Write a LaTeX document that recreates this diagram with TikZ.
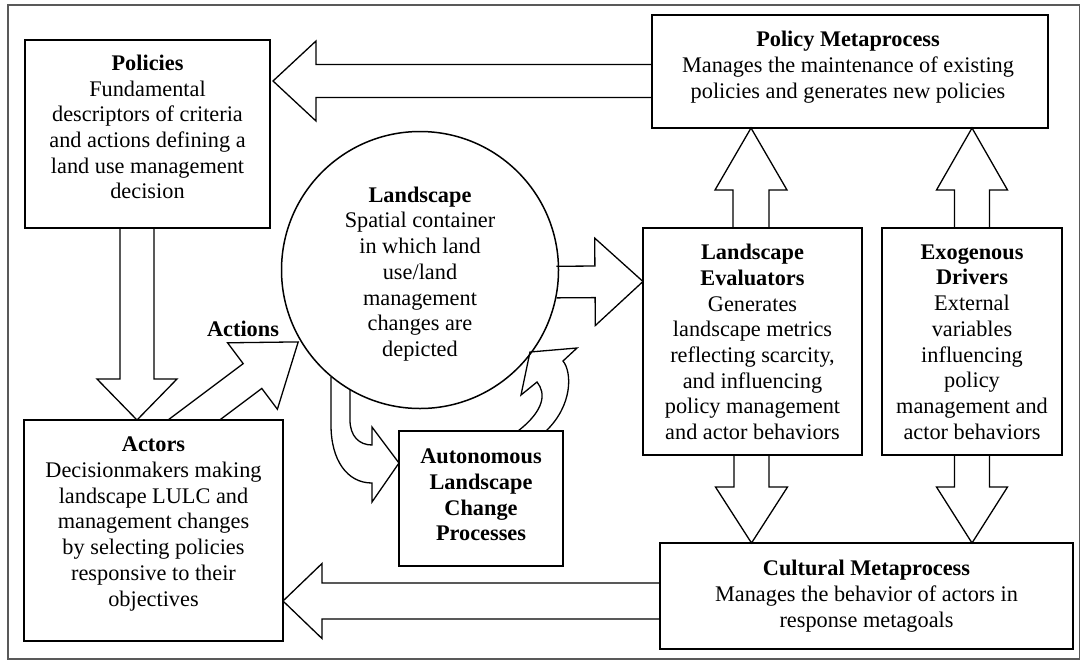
\documentclass[tikz,border=0pt]{standalone}
\usepackage{fontspec}
\setmainfont{Liberation Serif}
\usetikzlibrary{calc}
\tikzset{
  box/.style={draw, line width=1.5pt, inner sep=0pt, outer sep=0pt, rectangle},
  txt/.style={align=center, inner sep=0pt, font=\fontsize{22.3}{25.7}\selectfont},
  arrline/.style={draw, line width=1.3pt, line join=miter},
}
\newcommand\blockarr[5]{%
  \coordinate (bahead) at ($(#2)!#5!(#1)$);
  \draw[arrline] ($(#1)!#3!90:(#2)$) -- ($(bahead)!#3!90:(#2)$) -- ($(bahead)!#4!90:(#2)$) -- (#2)
     -- ($(bahead)!#4!-90:(#2)$) -- ($(bahead)!#3!-90:(#2)$) -- ($(#1)!#3!-90:(#2)$);
}
\begin{document}
\begin{tikzpicture}[x=1pt,y=-1pt]
\useasboundingbox (0,0) rectangle (1081,662);
\fill[white] (0,0) rectangle (1081,662);
\draw[black!65, line width=1.2pt] (8,5) rectangle (1079.5,659);

% boxes
\node[box, minimum width=245pt, minimum height=188pt] (pol) at (147.5,134) {};
\node[box, minimum width=396pt, minimum height=113pt] (pm) at (850,71.5) {};
\node[box, minimum width=259pt, minimum height=221pt] (act) at (153.5,530.5) {};
\node[draw, circle, line width=1.5pt, minimum size=277pt, inner sep=0pt, outer sep=0pt] (land) at (420,270) {};
\node[box, minimum width=164pt, minimum height=135pt] (auto) at (481,498.5) {};
\node[box, minimum width=219pt, minimum height=227pt] (le) at (752.5,341.5) {};
\node[box, minimum width=180pt, minimum height=227pt] (exo) at (972,341.5) {};
\node[box, minimum width=413pt, minimum height=106pt] (cul) at (866.5,596) {};

% texts
\node[txt] (polT) at (147.5,127) {\textbf{Policies}\\Fundamental\\descriptors of criteria\\and actions defining a\\land use management\\decision};
\node[txt] (pmT) at (848,67) {\textbf{Policy Metaprocess}\\Manages the maintenance of existing\\policies and generates new policies};
\node[txt] (landT) at (420,274) {\textbf{Landscape}\\Spatial container\\in which land\\use/land\\management\\changes are\\depicted};
\node[txt] (actT) at (153.5,524) {\textbf{Actors}\\Decisionmakers making\\landscape LULC and\\management changes\\by selecting policies\\responsive to their\\objectives};
\node[txt] (autoT) at (481,495) {\textbf{Autonomous}\\\textbf{Landscape}\\\textbf{Change}\\\textbf{Processes}};
\node[txt] (leT) at (752.5,342) {\textbf{Landscape}\\\textbf{Evaluators}\\Generates\\landscape metrics\\reflecting scarcity,\\and influencing\\policy management\\and actor behaviors};
\node[txt] (exoT) at (972,342) {\textbf{Exogenous}\\\textbf{Drivers}\\External\\variables\\influencing\\policy\\management and\\actor behaviors};
\node[txt] (culT) at (866.5,596) {\textbf{Cultural Metaprocess}\\Manages the behavior of actors in\\response metagoals};
\node[txt] (actionsT) at (243,329) {\textbf{Actions}};

% straight block arrows
\coordinate (a1s) at ($(pm.west)+(0,9.5)$);
\coordinate (a1t) at ($(pol.east)+(3,-53)$);
\blockarr{a1s}{a1t}{16.5pt}{40pt}{43pt}

\coordinate (a2s) at ($(pol.south)+(-10.5,0)$);
\coordinate (a2t) at ($(act.north)+(-16.5,0)$);
\blockarr{a2s}{a2t}{17pt}{40pt}{41pt}

\coordinate (a3s) at ($(cul.west)+(0,5)$);
\coordinate (a3t) at ($(act.east)+(0,70.5)$);
\blockarr{a3s}{a3t}{18pt}{37.5pt}{39pt}

\coordinate (a4s) at ($(le.north)+(-1.5,0)$);
\coordinate (a4t) at ($(pm.south)+(-99,0)$);
\blockarr{a4s}{a4t}{18pt}{36pt}{62pt}

\coordinate (a5s) at (exo.north);
\coordinate (a5t) at ($(pm.south)+(122,0)$);
\blockarr{a5s}{a5t}{17.5pt}{35.5pt}{62pt}

\coordinate (a6s) at ($(le.south)+(-1,0)$);
\coordinate (a6t) at ($(cul.north)+(-115,0)$);
\blockarr{a6s}{a6t}{17.5pt}{36pt}{56pt}

\coordinate (a7s) at (exo.south);
\coordinate (a7t) at ($(cul.north)+(105.5,0)$);
\blockarr{a7s}{a7t}{17.5pt}{35.5pt}{56pt}

\coordinate (a8s) at ($(land.-5)+(-1.5,0)$);
\coordinate (a8t) at ($(le.west)+(0,-60)$);
\blockarr{a8s}{a8t}{15.8pt}{43.7pt}{48pt}

% Actions arrow (actors -> landscape)
\draw[arrline] (168,420) -- (243.2,363.6) -- (227.6,342.8) -- (298.2,341.9)
  -- (277.4,409.2) -- (261.8,388.4) -- (219.7,420);

% curved arrow landscape -> autonomous
\draw[arrline] (331,377) -- (331,425) .. controls (331,460) and (347,483) .. (372,483)
  -- (372,502) -- (399,463) -- (372,427) -- (372,445)
  .. controls (359,445) and (350,436) .. (350,420) -- (350,390);

% curved arrow autonomous -> landscape
\draw[arrline] (546,431) .. controls (573,405) and (572,372) .. (563,361)
  -- (577,348) -- (530,352) -- (521,395) -- (537,382)
  .. controls (546,393) and (545,410) .. (518,431);
\end{tikzpicture}
\end{document}
